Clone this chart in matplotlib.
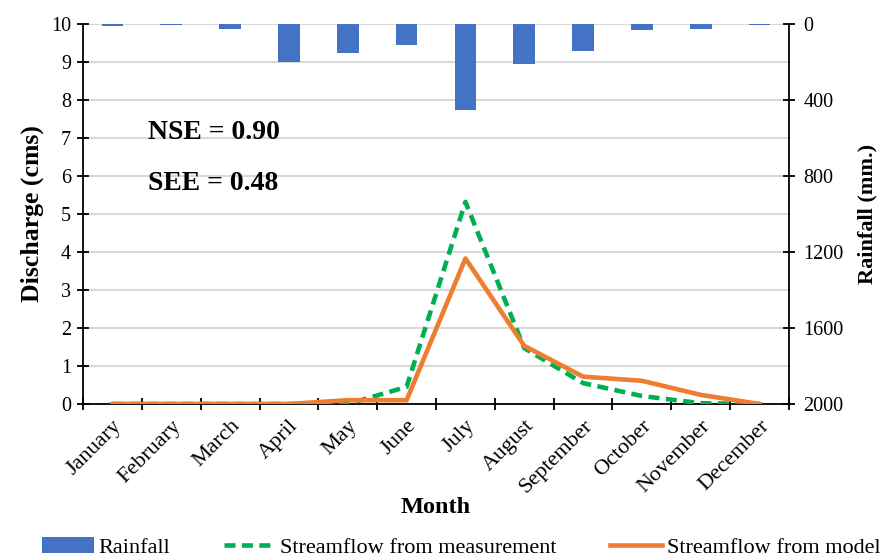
import numpy as np
import matplotlib.pyplot as plt

# --- data ---
months = ['January', 'February', 'March', 'April', 'May', 'June', 'July',
          'August', 'September', 'October', 'November', 'December']
rainfall = [10, 5, 28, 198, 154, 112, 454, 209, 140, 33, 28, 6]          # mm
q_measured = [0, 0, 0, 0, 0.0, 0.45, 5.32, 1.47, 0.55, 0.21, 0.02, 0.0]  # cms
q_model = [0, 0, 0, 0, 0.1, 0.1, 3.83, 1.53, 0.72, 0.61, 0.24, 0.0]      # cms

plt.rcParams['font.family'] = ['Liberation Serif', 'DejaVu Serif']

blue = '#4472C4'
green = '#00B050'
orange = '#ED7D31'
grid_color = '#D9D9D9'

x = np.arange(len(months))

fig = plt.figure(figsize=(8.87, 5.6), dpi=100)
ax = fig.add_axes([0.0936, 0.2786, 0.7959, 0.6785])
ax2 = ax.twinx()

# rainfall axis sits underneath so lines are drawn over the bars
ax2.set_zorder(ax.get_zorder() - 1)
ax.patch.set_visible(False)

# --- rainfall bars hanging from the top ---
ax2.bar(x, rainfall, width=0.37, color=blue, zorder=3, label='Rainfall')
ax2.set_ylim(2000, 0)
ax2.set_yticks(np.arange(0, 2001, 400))
ax2.set_yticks(np.arange(0, 2001, 200), minor=True)
ax2.grid(True, which='both', axis='y', color=grid_color, linewidth=1.5, zorder=0)
ax2.tick_params(axis='y', which='major', direction='inout', length=9, width=1.3,
                labelsize=14.5, pad=6)
ax2.tick_params(axis='y', which='minor', length=0)
ax2.set_ylabel('Rainfall (mm.)', fontsize=16, fontweight='bold', labelpad=10)

# --- streamflow lines ---
ax.plot(x, q_measured, color=green, linewidth=3.3, linestyle=(0, (2.4, 1.4)),
        label='Streamflow from measurement', zorder=4)
ax.plot(x, q_model, color=orange, linewidth=3.3, label='Streamflow from model',
        zorder=5)
ax.set_ylim(0, 10)
ax.set_xlim(-0.5, len(months) - 0.5)
ax.set_yticks(np.arange(0, 11, 1))
ax.tick_params(axis='y', direction='inout', length=9, width=1.3, labelsize=14.5,
               pad=4)

# month ticks at category boundaries, labels at the centres
ax.set_xticks(np.arange(-0.5, len(months), 1))
ax.set_xticklabels([])
ax.set_xticks(x, minor=True)
ax.set_xticklabels(months, minor=True, rotation=45, ha='right',
                   rotation_mode='anchor', fontsize=16)
ax.tick_params(axis='x', which='major', direction='inout', length=9, width=1.3)
ax.tick_params(axis='x', which='minor', length=0, pad=9)

ax.set_ylabel('Discharge (cms)', fontsize=18.5, fontweight='bold', labelpad=5)
ax.set_xlabel('Month', fontsize=17.5, fontweight='bold', labelpad=0)

for a in (ax, ax2):
    a.spines['top'].set_visible(False)
    for s in ('left', 'right', 'bottom'):
        a.spines[s].set_linewidth(1.3)
ax.spines['right'].set_visible(False)
ax2.spines['left'].set_visible(False)
ax2.spines['bottom'].set_visible(False)

ax.text(0.6, 7.15, 'NSE = 0.90', fontsize=20, fontweight='bold', va='center')
ax.text(0.6, 5.8, 'SEE = 0.48', fontsize=20, fontweight='bold', va='center')

# legend along the bottom edge
h2, l2 = ax2.get_legend_handles_labels()
h1, l1 = ax.get_legend_handles_labels()
fig.legend(h2 + h1, l2 + l1, loc='center', bbox_to_anchor=(0.520, 0.022),
           ncol=3, frameon=False, fontsize=16, handlelength=2.35,
           handletextpad=0.2, columnspacing=2.4, borderpad=0)

fig.savefig('out.png', dpi=100)
